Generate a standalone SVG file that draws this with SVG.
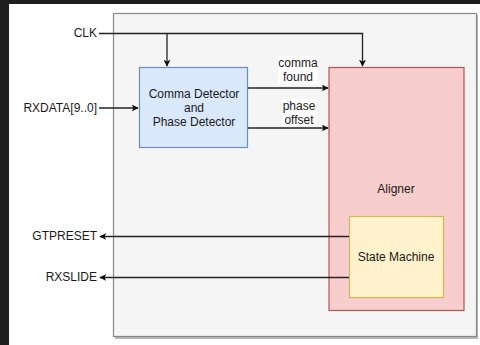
<svg xmlns="http://www.w3.org/2000/svg" width="480" height="345" viewBox="0 0 480 345">
<defs>
<style>
text{font-family:"Liberation Sans",Arial,Helvetica,sans-serif;font-size:12px;fill:#1a1a1a}
.c{text-anchor:middle}
.r{text-anchor:end}
.w{fill:none;stroke:#222;stroke-width:1.3}
</style>
<marker id="a" viewBox="0 0 10 10" refX="9" refY="5" markerWidth="7" markerHeight="7" markerUnits="userSpaceOnUse" orient="auto">
<path d="M0,0 L10,5 L0,10 L2.5,5 Z" fill="#111"/>
</marker>
</defs>
<rect x="0" y="0" width="480" height="345" fill="#1e1e1e"/>
<rect x="9" y="4" width="471" height="341" fill="#ffffff"/>
<g id="container">
<rect x="115" y="15" width="363" height="324" fill="#888" opacity="0.6"/>
<rect x="113.5" y="13.5" width="363" height="323" fill="#f5f5f5" stroke="#888" stroke-width="1.2"/>
</g>
<g id="detector">
<rect x="139.5" y="67.5" width="108" height="80" fill="#dae8fc" stroke="#6c8ebf" stroke-width="1.2"/>
<text class="c" x="194" y="98">Comma Detector</text>
<text class="c" x="194" y="112">and</text>
<text class="c" x="194" y="126">Phase Detector</text>
</g>
<g id="aligner">
<rect x="329" y="67.5" width="135" height="243" fill="#f8cecc" stroke="#b85450" stroke-width="1.2"/>
<text class="c" x="396" y="193">Aligner</text>
</g>
<g id="statemachine">
<rect x="349.5" y="216.5" width="94" height="81" fill="#fff2cc" stroke="#d6b656" stroke-width="1.2"/>
<text class="c" x="396" y="261">State Machine</text>
</g>
<g id="labels">
<text class="r" x="97" y="37">CLK</text>
<text class="r" x="97" y="112">RXDATA[9..0]</text>
<text class="r" x="97" y="240">GTPRESET</text>
<text class="r" x="97" y="281">RXSLIDE</text>
</g>
<g id="connectors">
<path class="w" d="M99,33.5 H362.5 V66" marker-end="url(#a)"/>
<path class="w" d="M167,33.5 V66" marker-end="url(#a)"/>
<path class="w" d="M99,108 H138" marker-end="url(#a)"/>
<path class="w" d="M248,88 H328" marker-end="url(#a)"/>
<path class="w" d="M248,128 H328" marker-end="url(#a)"/>
<path class="w" d="M349,236.5 H100" marker-end="url(#a)"/>
<path class="w" d="M349,277.5 H100" marker-end="url(#a)"/>
<rect x="278" y="56" width="40" height="28" fill="#ffffff"/>
<text class="c" x="298" y="67">comma</text>
<text class="c" x="298" y="81">found</text>
<rect x="282" y="99" width="34" height="27" fill="#ffffff"/>
<text class="c" x="299" y="110">phase</text>
<text class="c" x="299" y="124">offset</text>
</g>
</svg>
